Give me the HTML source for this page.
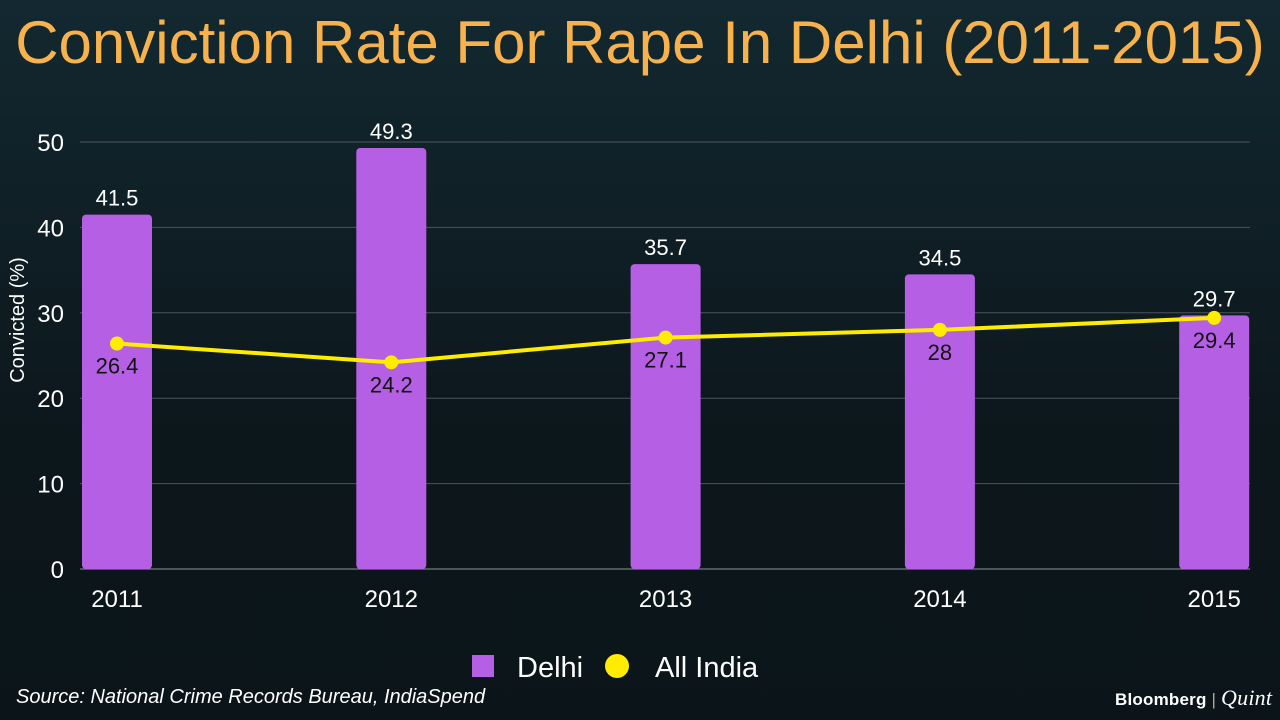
<!DOCTYPE html>
<html><head><meta charset="utf-8"><style>
html,body{margin:0;padding:0}
body{width:1280px;height:720px;overflow:hidden;background:linear-gradient(#132830,#0c171c 60%,#0b1519);font-family:"Liberation Sans",sans-serif;position:relative}
#title{position:absolute;left:0;width:1280px;top:8px;text-align:center;color:#f7b24e;font-size:60px;white-space:nowrap}
#src{position:absolute;left:16px;top:686px;color:#fff;font-style:italic;font-size:20px}
#logo{position:absolute;left:1115px;top:685px;color:#fff;font-size:17px;letter-spacing:0.2px}
</style></head><body>
<div id="title">Conviction Rate For Rape In Delhi (2011-2015)</div>
<svg id="chart" width="1280" height="720" style="position:absolute;left:0;top:0"></svg>
<div id="src">Source: National Crime Records Bureau, IndiaSpend</div>
<div id="logo"><b>Bloomberg</b> <span style="color:#aaa">|</span> <i style="font-family:'Liberation Serif',serif;font-size:22px">Quint</i></div>
<script>
const years=["2011","2012","2013","2014","2015"];
const delhi=[41.5,49.3,35.7,34.5,29.7];
const india=[26.4,24.2,27.1,28,29.4];
const yTicks=[0,10,20,30,40,50];
const NS="http://www.w3.org/2000/svg";
const svg=document.getElementById('chart');
const y=v=>569-v*8.54;
const x=i=>117+i*274.3;
function mk(t,a,txt){const e=document.createElementNS(NS,t);for(const k in a)e.setAttribute(k,a[k]);if(txt!=null)e.textContent=txt;svg.appendChild(e);return e;}
yTicks.forEach(t=>{
const g=mk('line',{x1:80,x2:1250,y1:y(t),y2:y(t),stroke:t==0?'#8a9499':'#4a5559','stroke-width':1});


const l=mk('text',{x:64,y:y(t)+9,'text-anchor':'end',fill:'#fff','font-size':24,'font-family':'Liberation Sans'},t);


});
const yt=mk('text',{x:24,y:320,'text-anchor':'middle',fill:'#fff','font-size':20,transform:'rotate(-90 24 320)','font-family':'Liberation Sans'},'Convicted (%)');


years.forEach((yr,i)=>{
const b=mk('rect',{x:x(i)-35,y:y(delhi[i]),width:70,height:569-y(delhi[i]),rx:4,fill:'#b55fe5'});


const v=mk('text',{x:x(i),y:y(delhi[i])-9,'text-anchor':'middle',fill:'#fff','font-size':22,'font-family':'Liberation Sans'},delhi[i]);


const xl=mk('text',{x:x(i),y:607,'text-anchor':'middle',fill:'#fff','font-size':24,'font-family':'Liberation Sans'},yr);


});
const pl=mk('polyline',{points:india.map((v,i)=>x(i)+','+y(v)).join(' '),fill:'none',stroke:'#ffec00','stroke-width':4});


india.forEach((v,i)=>{
const c=mk('circle',{cx:x(i),cy:y(v),r:7,fill:'#ffec00'});


const t=mk('text',{x:x(i),y:y(v)+30,'text-anchor':'middle',fill:'#111','font-size':22,'font-family':'Liberation Sans'},v);


});
const lg1=mk('rect',{x:472,y:655,width:22,height:22,fill:'#b55fe5'});


const lt1=mk('text',{x:517,y:677,fill:'#fff','font-size':29,'font-family':'Liberation Sans'},'Delhi');


const lg2=mk('circle',{cx:617,cy:666,r:12,fill:'#ffec00'});


const lt2=mk('text',{x:655,y:677,fill:'#fff','font-size':29,'font-family':'Liberation Sans'},'All India');


</script>
</body></html>
